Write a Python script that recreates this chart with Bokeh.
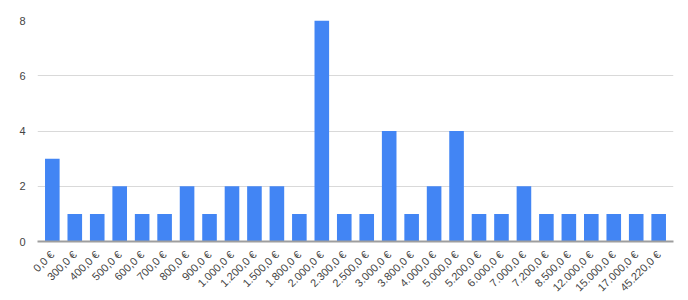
import math
from bokeh.plotting import figure
from bokeh.models import ColumnDataSource, FactorRange, Range1d, FixedTicker
from bokeh.embed import file_html
from bokeh.resources import INLINE

categories = ["0,0 €", "300,0 €", "400,0 €", "500,0 €", "600,0 €", "700,0 €", "800,0 €",
              "900,0 €", "1.000,0 €", "1.200,0 €", "1.500,0 €", "1.800,0 €", "2.000,0 €",
              "2.300,0 €", "2.500,0 €", "3.000,0 €", "3.800,0 €", "4.000,0 €", "5.000,0 €",
              "5.200,0 €", "6.000,0 €", "7.000,0 €", "7.200,0 €", "8.500,0 €", "12.000,0 €",
              "15.000,0 €", "17.000,0 €", "45.220,0 €"]
counts = [3, 1, 1, 2, 1, 1, 2, 1, 2, 2, 2, 1, 8, 1, 1, 4, 1, 2, 4, 1, 1, 2, 1, 1, 1, 1, 1, 1]
y_ticks = [0, 2, 4, 6, 8]

source = ColumnDataSource(data=dict(cat=categories, val=counts))

p = figure(width=688, height=300, output_backend="svg", toolbar_location=None,
           x_range=FactorRange(*categories, range_padding=0.16, range_padding_units="absolute"),
           y_range=Range1d(0, 8),
           min_border_left=37, min_border_right=15, min_border_top=20, min_border_bottom=58)
p.vbar(x="cat", top="val", width=0.65, source=source, fill_color="#4285F4", line_color=None)

p.outline_line_color = None
p.background_fill_color = "white"
p.xgrid.grid_line_color = None
p.ygrid.grid_line_color = "#d9d9d9"
p.ygrid.grid_line_width = 1
p.yaxis.ticker = FixedTicker(ticks=y_ticks)
p.yaxis.axis_line_color = None
p.yaxis.major_tick_line_color = None
p.yaxis.minor_tick_line_color = None
p.yaxis.major_label_text_font = "Arial"
p.yaxis.major_label_text_font_size = "11px"
p.yaxis.major_label_text_color = "#444444"
p.yaxis.major_label_standoff = 6

p.xaxis.axis_line_color = "#9e9e9e"
p.xaxis.axis_line_width = 2
p.xaxis.major_tick_line_color = None
p.xaxis.minor_tick_line_color = None
p.xaxis.major_label_orientation = math.pi / 4
p.xaxis.major_label_text_font = "Arial"
p.xaxis.major_label_text_font_size = "11px"
p.xaxis.major_label_text_color = "#444444"
p.xaxis.major_label_standoff = 5

open("out.html", "w").write(file_html(p, INLINE))
